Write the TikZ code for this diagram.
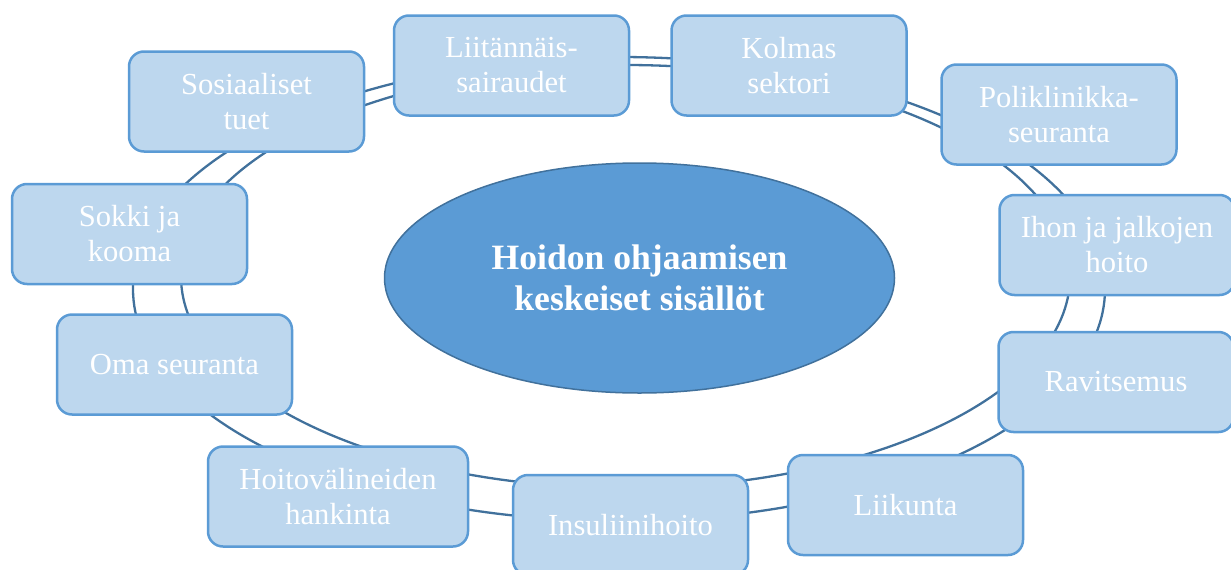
\documentclass[tikz,border=0pt]{standalone}
\usepackage{fontspec}
\setmainfont{Liberation Serif}
\usetikzlibrary{shapes.geometric}

\definecolor{boxfill}{HTML}{BDD7EE}
\definecolor{boxline}{HTML}{5B9BD5}
\definecolor{corefill}{HTML}{5B9BD5}
\definecolor{darkline}{HTML}{41719C}

\tikzset{
	topic/.style={draw=boxline, fill=boxfill, line width=2.5pt, rounded corners=15pt,
		minimum width=235pt, minimum height=100pt, inner sep=0pt, align=center,
		text=white, font=\fontsize{30.6}{35}\selectfont},
	core/.style={ellipse, draw=darkline, fill=corefill, line width=1.5pt,
		minimum width=510pt, minimum height=230pt, inner sep=0pt, align=center,
		text=white, font=\bfseries\fontsize{35.6}{41}\selectfont},
	ring/.style={draw=darkline, line width=2.3pt}
}

\begin{document}
\begin{tikzpicture}[x=1pt, y=-1pt]
		\useasboundingbox (0,0) rectangle (1231,570);
		
		\draw[ring] (619,289) ellipse [x radius=486pt, y radius=232pt];
		\draw[ring] (625.5,276.5) ellipse [x radius=444.5pt, y radius=211.5pt];
		
		\node[topic] (liitannaiset) at (511.5,65.5) {Liitännäis-\\sairaudet};
		\node[topic] (kolmas) at (789,65.5) {Kolmas\\sektori};
		\node[topic] (poliklinikka) at (1059,114.5) {Poliklinikka-\\seuranta};
		\node[topic] (iho) at (1117,245) {Ihon ja jalkojen\\hoito};
		\node[topic] (ravitsemus) at (1116,382) {Ravitsemus};
		\node[topic] (liikunta) at (905.5,505) {Liikunta};
		\node[topic] (insuliini) at (630.5,525) {Insuliinihoito};
		\node[topic, minimum width=260pt] (valineet) at (338,496.5) {Hoitovälineiden\\hankinta};
		\node[topic] (omaseuranta) at (174.5,364.5) {Oma seuranta};
		\node[topic] (sokki) at (129.5,234) {Sokki ja\\kooma};
		\node[topic] (sosiaaliset) at (246.5,101.5) {Sosiaaliset\\tuet};
		
		\node[core] (keskus) at (639.5,278) {Hoidon ohjaamisen\\keskeiset sisällöt};
\end{tikzpicture}
\end{document}
